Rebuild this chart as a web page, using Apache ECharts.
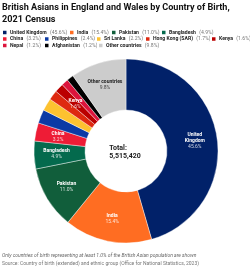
<!DOCTYPE html>
<html><head><meta charset="utf-8">
<script src="https://cdn.jsdelivr.net/npm/echarts@6/dist/echarts.min.js"></script>
<style>html,body{margin:0;padding:0;background:#fff}#c{width:250px;height:267px}</style>
</head><body><div id="c"></div>
<script>
const categories = ['United Kingdom','India','Pakistan','Bangladesh','China','Philippines','Sri Lanka','Hong Kong (SAR)','Kenya','Nepal','Afghanistan','Other countries'];
const shares = [45.6,15.4,11.0,4.9,3.2,2.4,2.2,1.7,1.6,1.2,1.2,9.8];
const colors = ['#012169','#ff6d22','#115e3b','#046a4d','#ee1c36','#0b3aa5','#fdc230','#de2910','#bb0000','#dc143c','#000000','#cccccc'];
const sliceLabels = ['United\nKingdom','India','Pakistan','Bangladesh','China','','','','Kenya','','','Other countries'];
const legendRow = [0,0,0,0,1,1,1,1,1,2,2,2];
const legendX = [1,68,110,160,1,43,95,144,210,1,43,97];
const total = '5,515,420';

const chart = echarts.init(document.getElementById('c'), null, {renderer:'canvas'});
const FONT = 'Roboto, "Liberation Sans", Arial, sans-serif';
const data = categories.map((n,i)=>({
  name:n, value:shares[i], itemStyle:{color:colors[i]},
  label:{show: sliceLabels[i] !== '',
    formatter: '{n|'+sliceLabels[i].split('\n').join('}\n{n|')+'}\n{p|'+shares[i].toFixed(1)+'%}',
    rich: i===11 ? {n:{color:'#222',fontWeight:'bold',fontSize:5,lineHeight:6,fontFamily:FONT},p:{color:'#444',fontSize:5,lineHeight:6,fontFamily:FONT}}
                 : {n:{color:'#fff',fontWeight:'bold',fontSize:5,lineHeight:6,fontFamily:FONT},p:{color:'rgba(255,255,255,0.8)',fontSize:5,lineHeight:6,fontFamily:FONT}}
  }
}));
const rowTop = [26.5, 33, 39.5];
const legends = categories.map((name,i)=>({
  data: [name],
  left: legendX[i], top: rowTop[legendRow[i]], orient:'horizontal',
  itemWidth:5.5, itemHeight:5.5, itemGap:0, icon:'rect', padding:0,
  selectedMode:false,
  formatter: nm => '{n|'+nm+'} {p|('+shares[i].toFixed(1)+'%)}',
  textStyle:{padding:[0,0,0,-2.5], rich:{n:{fontSize:5.1,fontWeight:'bold',color:'#222',fontFamily:FONT},p:{fontSize:5.1,color:'#777',fontFamily:FONT}}}
}));
chart.setOption({
  animation:false,
  title:{text:'British Asians in England and Wales by Country of Birth,\n2021 Census', left:2, top:2, padding:0,
    textStyle:{fontSize:9.1, fontWeight:'bold', color:'#111', lineHeight:11.5, fontFamily:FONT}},
  legend: legends,
  graphic:[
    {type:'text', left:'center', top:144, style:{text:'Total:\n'+total, align:'center', fontSize:7, fontWeight:'bold', lineHeight:8, fill:'#222', fontFamily:FONT}},
    {type:'text', left:2, top:253, style:{text:'Only countries of birth representing at least 1.0% of the British Asian population are shown', fontSize:5, fontStyle:'italic', fill:'#666', fontFamily:FONT}},
    {type:'text', left:2, top:261, style:{text:'Source: Country of birth (extended) and ethnic group (Office for National Statistics, 2023)', fontSize:5, fill:'#777', fontFamily:FONT}}
  ],
  series:[{
    type:'pie', center:[126,151], radius:[41,92], startAngle:90, clockwise:true,
    label:{position:'inside'}, labelLine:{show:false},
    itemStyle:{borderColor:'#fff', borderWidth:0.4},
    emphasis:{disabled:true},
    data
  }]
});
</script></body></html>
